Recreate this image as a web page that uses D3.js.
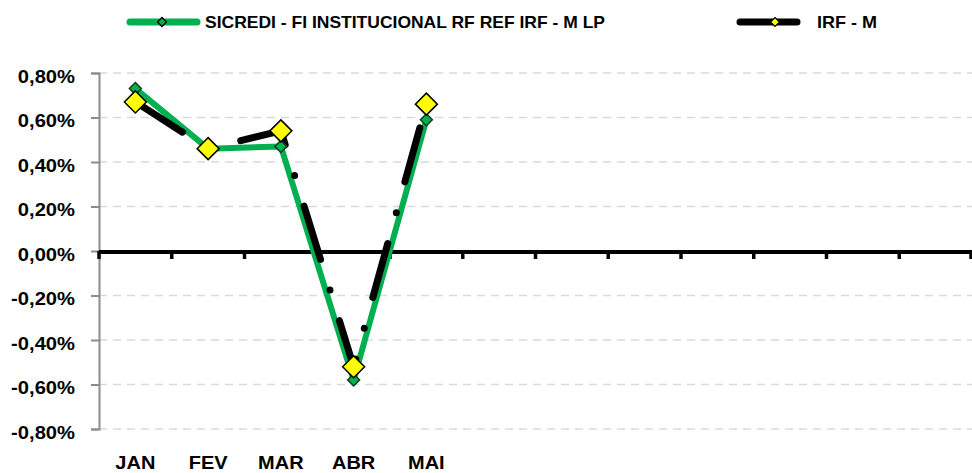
<!DOCTYPE html>
<html><head><meta charset="utf-8">
<script src="https://cdn.jsdelivr.net/npm/d3@7"></script>
<style>
body{margin:0;background:#fff;}
svg{display:block;font-family:"Liberation Sans",Arial,sans-serif;font-weight:bold;}
</style></head>
<body>
<svg id="c" width="972" height="473"></svg>
<script>
const categories = ["JAN","FEV","MAR","ABR","MAI","","","","","","",""];
const sicredi = [0.73, 0.46, 0.47, -0.58, 0.59];
const irfm = [0.67, 0.46, 0.54, -0.52, 0.66];
const yTicks = [-0.8,-0.6,-0.4,-0.2,0,0.2,0.4,0.6,0.8];
const seriesNames = ["SICREDI - FI INSTITUCIONAL RF REF IRF - M LP","IRF - M"];

(function(){
const svg = d3.select("#c");
const pLeft = 99, pRight = 972, pTop = 73, pBottom = 429;
const x = d3.scaleBand().domain(d3.range(categories.length)).range([pLeft, pRight]).padding(0);
const y = d3.scaleLinear().domain([-0.8, 0.8]).range([pBottom, pTop]);
const fmt = v => (v < 0 ? "-" : "") + Math.abs(v).toFixed(2).replace(".", ",") + "%";

// gridlines
svg.append("g").selectAll("line").data(yTicks.filter(v => v !== 0)).join("line")
  .attr("x1", pLeft).attr("x2", pRight)
  .attr("y1", d => y(d)).attr("y2", d => y(d))
  .attr("stroke", "#d9d9d9").attr("stroke-width", 1.5).attr("stroke-dasharray", "8,6");

// y axis
const yAxis = svg.append("g").attr("transform", `translate(${pLeft},0)`)
  .call(d3.axisLeft(y).tickValues(yTicks).tickFormat(fmt).tickSize(8).tickPadding(16));
yAxis.select(".domain").attr("stroke", "#8c8c8c").attr("stroke-width", 2);
yAxis.selectAll(".tick line").attr("stroke", "#8c8c8c").attr("stroke-width", 2);
yAxis.selectAll("text").attr("font-size", 18.5).attr("fill", "#000").attr("dy", "0.5em")
  .attr("font-family", "'Liberation Sans',Arial,sans-serif").attr("font-weight", "bold")
  .each(function(){ const w = this.getComputedTextLength(); d3.select(this).attr("textLength", w*1.09).attr("lengthAdjust","spacingAndGlyphs"); });

// zero line with category ticks
svg.append("line").attr("x1", pLeft).attr("x2", pRight).attr("y1", y(0)+1).attr("y2", y(0)+1)
  .attr("stroke", "#000").attr("stroke-width", 4);
const bounds = d3.range(categories.length + 1).map(i => pLeft + i * x.bandwidth());
svg.append("g").selectAll("line").data(bounds).join("line")
  .attr("x1", d => Math.min(d, pRight-1)).attr("x2", d => Math.min(d, pRight-1))
  .attr("y1", y(0)).attr("y2", y(0)+8)
  .attr("stroke", "#000").attr("stroke-width", 3.5);

// x labels
svg.append("g").selectAll("text").data(categories).join("text")
  .attr("x", (d, i) => x(i) + x.bandwidth()/2)
  .attr("y", 469).attr("text-anchor", "middle").attr("font-size", 18.5).text(d => d)
  .each(function(){ const w = this.getComputedTextLength(); if (w>0) d3.select(this).attr("textLength", w*1.08).attr("lengthAdjust","spacingAndGlyphs"); });

const cx = i => x(i) + x.bandwidth()/2;
const line = d3.line().x((d, i) => cx(i)).y(d => y(d));

svg.append("path").datum(sicredi).attr("d", line).attr("fill", "none")
  .attr("stroke", "#00b050").attr("stroke-width", 6).attr("stroke-linejoin", "round");
svg.append("path").datum(irfm).attr("d", line).attr("fill", "none")
  .attr("stroke", "#000").attr("stroke-width", 7).attr("stroke-linecap", "round")
  .attr("stroke-linejoin", "round").attr("stroke-dasharray", "56,32,0,32");

const diamond = (s) => `M0,${-s}L${s},0L0,${s}L${-s},0Z`;
svg.append("g").selectAll("path").data(sicredi).join("path")
  .attr("transform", (d, i) => `translate(${cx(i)},${y(d)})`)
  .attr("d", diamond(6)).attr("fill", "#00b050").attr("stroke", "#1a3a1a").attr("stroke-width", 1.5);
svg.append("g").selectAll("path").data(irfm).join("path")
  .attr("transform", (d, i) => `translate(${cx(i)},${y(d)})`)
  .attr("d", diamond(11)).attr("fill", "#ffff00").attr("stroke", "#000").attr("stroke-width", 1.5);

// legend
const lg = svg.append("g");
lg.append("line").attr("x1", 130).attr("x2", 197).attr("y1", 22).attr("y2", 22)
  .attr("stroke", "#00b050").attr("stroke-width", 7).attr("stroke-linecap", "round");
lg.append("path").attr("transform", "translate(162,22)").attr("d", diamond(4.5))
  .attr("fill", "#00b050").attr("stroke", "#000").attr("stroke-width", 1.4);
lg.append("text").attr("x", 205).attr("y", 28).attr("font-size", 16.5).text(seriesNames[0])
  .attr("textLength", 400).attr("lengthAdjust", "spacingAndGlyphs");
lg.append("line").attr("x1", 740).attr("x2", 797).attr("y1", 22).attr("y2", 22)
  .attr("stroke", "#000").attr("stroke-width", 7).attr("stroke-linecap", "round");
lg.append("path").attr("transform", "translate(775,22)").attr("d", diamond(4.5))
  .attr("fill", "#ffff00").attr("stroke", "#000").attr("stroke-width", 1.2);
lg.append("text").attr("x", 817).attr("y", 28).attr("font-size", 16.5).text(seriesNames[1])
  .attr("textLength", 60).attr("lengthAdjust", "spacingAndGlyphs");
})();
</script>
</body></html>
